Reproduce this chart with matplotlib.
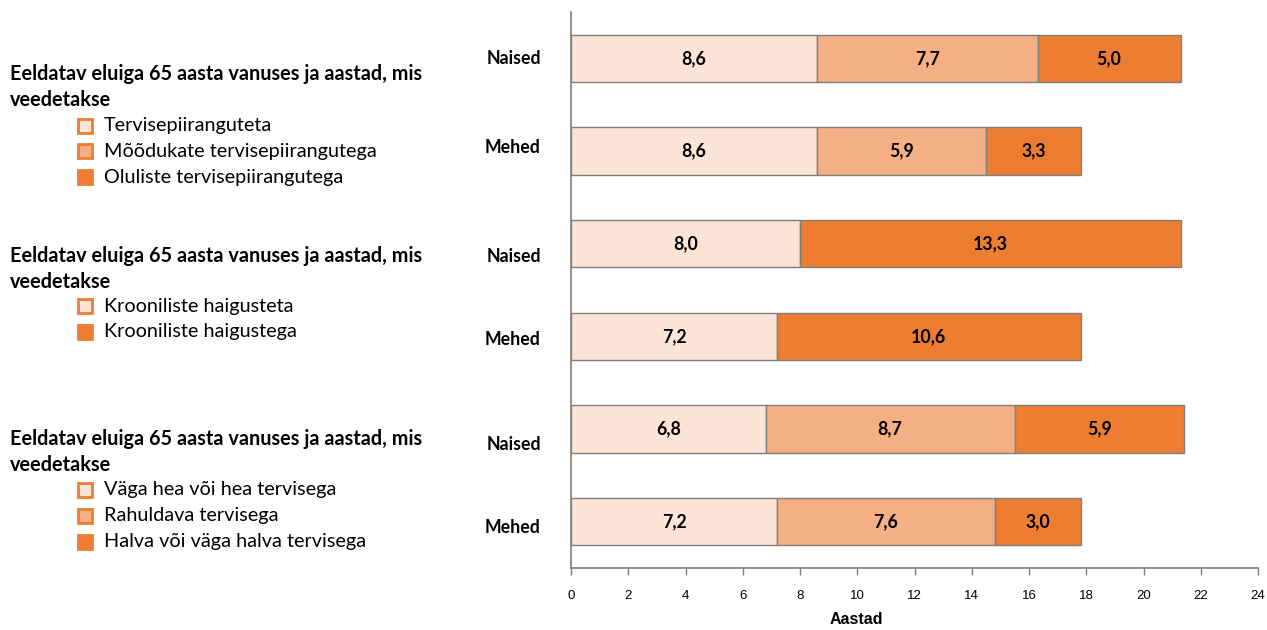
import matplotlib
matplotlib.use("Agg")
import matplotlib.pyplot as plt
from matplotlib.patches import Rectangle
import numpy as np

# ---------------- data ----------------
categories = ["Naised", "Mehed", "Naised", "Mehed", "Naised", "Mehed"]

legend_title = "Eeldatav eluiga 65 aasta vanuses ja aastad, mis\nveedetakse"
group1_labels = ["Tervisepiiranguteta", "Mõõdukate tervisepiirangutega", "Oluliste tervisepiirangutega"]
group2_labels = ["Krooniliste haigusteta", "Krooniliste haigustega"]
group3_labels = ["Väga hea või hea tervisega", "Rahuldava tervisega", "Halva või väga halva tervisega"]

g1_naised = [8.6, 7.7, 5.0]
g1_mehed = [8.6, 5.9, 3.3]
g2_naised = [8.0, 13.3]
g2_mehed = [7.2, 10.6]
g3_naised = [6.8, 8.7, 5.9]
g3_mehed = [7.2, 7.6, 3.0]

x_ticks = [0, 2, 4, 6, 8, 10, 12, 14, 16, 18, 20, 22, 24]
x_label = "Aastad"

# ---------------- style ----------------
LIGHT = "#FCE4D6"
MID = "#F4B084"
DARK = "#ED7D31"
EDGE = "#7F7F7F"
FONT = ["Lato", "DejaVu Sans"]
NARROW = ["Liberation Sans", "DejaVu Sans"]

colors3 = [LIGHT, MID, DARK]
colors2 = [LIGHT, DARK]

rows = [
    (g1_naised, colors3),
    (g1_mehed, colors3),
    (g2_naised, colors2),
    (g2_mehed, colors2),
    (g3_naised, colors3),
    (g3_mehed, colors3),
]
label_offsets = [0.0, -0.04, 0.14, 0.03, 0.17, 0.06]

W, H = 1267, 630
fig = plt.figure(figsize=(W / 100, H / 100), dpi=100)
ax = fig.add_axes([571 / W, 1 - 568 / H, (1258 - 571) / W, (568 - 12) / H])

bar_h = 0.51
for i, (vals, cols) in enumerate(rows):
    left = 0.0
    for v, c in zip(vals, cols):
        ax.barh(i, v, left=left, height=bar_h, color=c, edgecolor=EDGE, linewidth=1.0)
        ax.text(left + v / 2, i, f"{v:.1f}".replace(".", ","), ha="center", va="center",
                fontsize=12.8, fontweight="bold", family=FONT, color="black")
        left += v

ax.set_ylim(5.5, -0.5)
ax.set_xlim(0, 24)
ax.set_xticks(x_ticks)
ax.set_xticklabels([str(t) for t in x_ticks], family=NARROW, fontsize=9.5)
ax.tick_params(axis="x", direction="out", length=5, width=1, color=EDGE, pad=11)
ax.set_yticks([])
for s in ["top", "right"]:
    ax.spines[s].set_visible(False)
for s in ["left", "bottom"]:
    ax.spines[s].set_color(EDGE)
    ax.spines[s].set_linewidth(1.2)
ax.set_xlabel(x_label, family=NARROW, fontsize=11.5, fontweight="bold")
ax.xaxis.set_label_coords((856 - 571) / 687, -(620 - 568) / 556)
ax.xaxis.label.set_va("center")

for i, (cat, off) in enumerate(zip(categories, label_offsets)):
    ax.text(-0.0437 * 24, i + off, cat, ha="right", va="center", fontsize=12.8,
            fontweight="bold", family=FONT, clip_on=False)

# ---------------- legends ----------------
def legend_block(title_y, item_ys, labels, cols):
    fig.text(10 / W, 1 - title_y / H, legend_title, ha="left", va="center", fontsize=14.3,
             fontweight="bold", family=FONT, linespacing=1.35)
    for y, lab, c in zip(item_ys, labels, cols):
        sq = 14
        fig.patches.append(Rectangle((78 / W, 1 - (y + sq / 2) / H), sq / W, sq / H,
                                     transform=fig.transFigure, facecolor=c,
                                     edgecolor=DARK, linewidth=2))
        fig.text(104 / W, 1 - y / H, lab, ha="left", va="center", fontsize=14.3, family=FONT)

legend_block(87, [126, 151, 177], group1_labels, colors3)
legend_block(269, [306, 332], group2_labels, colors2)
legend_block(452, [490, 516, 542], group3_labels, colors3)

fig.savefig("out.png", dpi=100, facecolor="white")
